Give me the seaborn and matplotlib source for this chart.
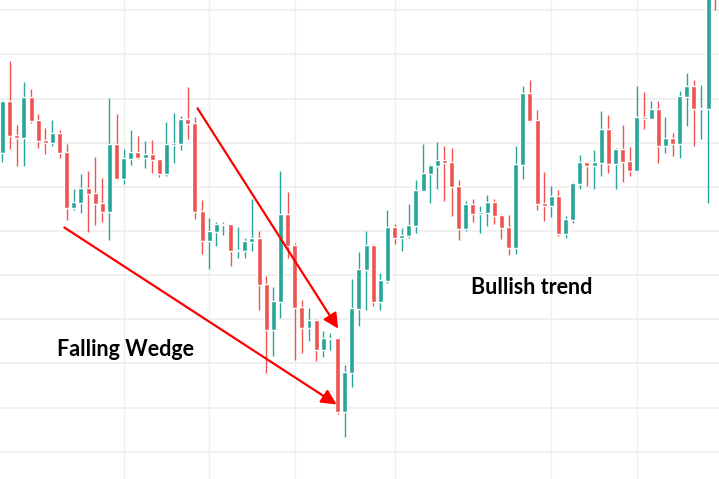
import numpy as np
import matplotlib
matplotlib.use("Agg")
import matplotlib.pyplot as plt
import seaborn as sb
import pandas as pd

# OHLC candles (price units = arbitrary)
opens = [327.3, 379, 345, 342.3, 383, 360, 340.3, 337.3, 347, 328,
         272.3, 277.3, 292, 287, 277, 268.3, 336, 301.3, 321, 328,
         322, 326, 321, 306, 335.3, 336, 361, 357, 269, 239,
         248, 255, 256, 229, 229.3, 238.3, 242, 196, 150, 178,
         266, 235, 173, 152.3, 160, 130.3, 141, 142, 68.3, 107.3,
         171.3, 210.3, 235, 178.3, 199.3, 253, 242.3, 244.3, 254.3, 289.3,
         306.3, 314.3, 320, 318, 294, 251.3, 276, 266.3, 267.3, 278,
         265, 253, 232.3, 315.3, 387, 360, 277, 274.3, 284, 246.3,
         260.3, 296.3, 318, 314.3, 317.3, 351, 316.3, 331, 319, 309.3,
         363, 361.3, 371, 334.3, 342, 336.3, 383.3, 394, 371, 371.3,
         530]
highs = [380, 419, 354.7, 398, 391, 366, 352, 360, 350, 336,
         291, 306, 309, 323, 302, 382, 366, 331, 350, 344,
         339, 340, 321, 358, 367, 364, 393.3, 363, 280, 262,
         258, 258, 256, 253, 242, 281, 249, 204, 193, 309,
         288, 237, 180, 172, 161, 149, 147.3, 142, 115.3, 201,
         228, 249, 236, 207, 270, 256, 252, 276, 300, 336,
         316, 338, 334, 332, 300, 279, 281, 274, 285, 281,
         266, 265, 334, 394, 400, 370, 308, 294, 290, 264,
         298, 325, 318, 330, 369, 365, 332, 355, 333, 394,
         388, 379, 379, 363, 347, 389, 407, 400, 395, 520,
         545]
lows = [318.3, 331, 314.3, 314.3, 356.7, 332.3, 326.3, 334.3, 322.3, 260.3,
        270.3, 267.3, 248.3, 255.3, 258.3, 240.3, 300, 296.3, 315, 321,
        312, 307, 303, 304, 317, 330, 341.3, 261, 226.3, 211.3,
        234.3, 245.3, 214.3, 222, 222, 229.3, 170, 107.3, 124.3, 162.3,
        222.3, 120.3, 127.3, 139.3, 119.3, 123.3, 130.3, 66.3, 43.3, 93.3,
        154.3, 170.3, 174.3, 170.3, 197.3, 236, 229.3, 242.3, 247.3, 289.3,
        277.3, 291.3, 279.3, 264.3, 240.3, 249.3, 258.3, 247.3, 254.3, 256.3,
        241.3, 225.3, 226.3, 301.3, 358.3, 270.3, 259.3, 263.3, 244.3, 242.3,
        257.3, 291.3, 294.3, 291.3, 304.3, 307.3, 291.3, 298.3, 304.3, 308.3,
        351.3, 361.3, 317.3, 327.3, 324.3, 322.3, 354.3, 334.3, 341.3, 277.3,
        470]
closes = [379, 344, 342.3, 383, 359, 339.3, 337.3, 347, 327.3, 272.3,
          278, 292, 286.3, 276.3, 268.3, 336, 300.7, 322, 328, 322,
          326, 320, 306, 336, 337, 361, 356.3, 268, 239, 249,
          256, 256.3, 229, 230, 239, 242, 195, 150, 179, 266,
          234, 172.3, 152.3, 160, 130.3, 142, 142, 68.3, 108.3, 172.3,
          211, 235, 178.3, 200, 253, 242.3, 245, 255, 290, 307,
          315, 320, 317.3, 293.3, 251.3, 276, 266.3, 268, 278, 264.3,
          252.3, 232.3, 316, 387, 359.3, 276.3, 274.3, 284, 246.3, 261,
          297, 318, 314.3, 318, 351, 316.3, 331, 318.3, 309.3, 363,
          361.3, 371, 334.3, 342, 336.3, 384, 394, 371.3, 372, 500,
          500]

grid_x = [17, 29, 41, 55, 77, 89]
grid_y = np.arange(28.3, 480, 44.15)

labels = ["Falling Wedge", "Bullish trend"]

df = pd.DataFrame({"open": opens, "high": highs, "low": lows, "close": closes})
df["up"] = df["close"] >= df["open"]

GREEN = "#26a69a"
RED = "#ef5350"

sb.set_style("white")
fig = plt.figure(figsize=(7.19, 4.79), dpi=100)
ax = fig.add_axes([0, 0, 1, 1])

for v in grid_x:
    ax.axvline(v, color="#efefef", lw=1, zorder=0)
for h in grid_y:
    ax.axhline(h, color="#eeeeee", lw=1.2, zorder=0)

cols = np.where(df["up"], GREEN, RED)
x = np.arange(len(df))
ax.vlines(x, df["low"], df["high"], colors=cols, lw=1.0, zorder=2)
body = (df["close"] - df["open"]).abs().clip(lower=1.2)
bottom = df[["open", "close"]].min(axis=1)
ax.bar(x, body, bottom=bottom, width=0.7, color=cols, zorder=3)

# wedge arrows
arr = dict(arrowstyle="-|>,head_length=0.9,head_width=0.45", color="#ff0000", lw=1.6)
ax.annotate("", xy=(47.3, 149), xytext=(27.15, 374), arrowprops=arr, zorder=4)
ax.annotate("", xy=(47.2, 74), xytext=(8.35, 254), arrowprops=arr, zorder=4)

ax.text(17.3, 131, labels[0], fontsize=15.5, fontweight="bold", family=["Lato", "DejaVu Sans"],
        ha="center", va="center", color="black")
ax.text(74.2, 193, labels[1], fontsize=15.5, fontweight="bold", family=["Lato", "DejaVu Sans"],
        ha="center", va="center", color="black")

ax.set_xlim(-0.35, 100.52)
ax.set_ylim(1, 480)
ax.set_xticks([])
ax.set_yticks([])
for s in ax.spines.values():
    s.set_visible(False)

fig.savefig("out.png", dpi=100)
